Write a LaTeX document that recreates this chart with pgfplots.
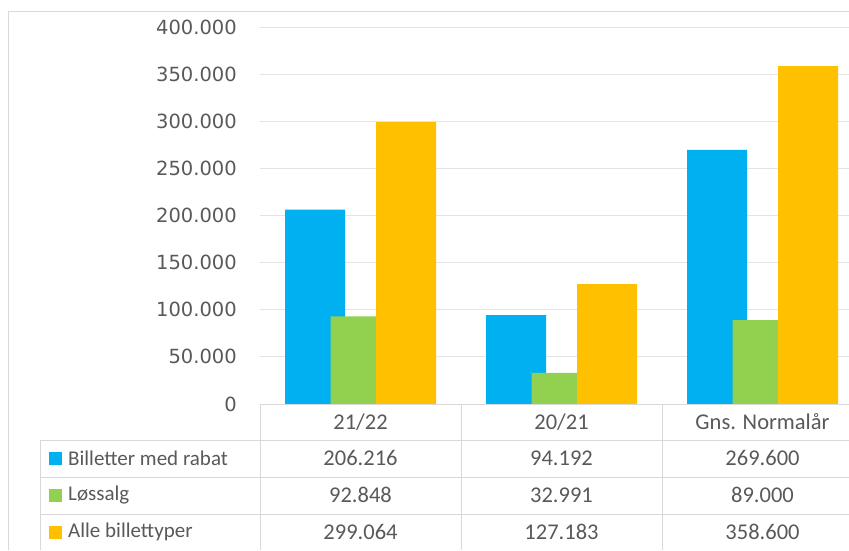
\documentclass[border=0pt]{standalone}
\usepackage{pgfplots}
\pgfplotsset{compat=1.18}
\usepackage{fontspec}
\setmainfont{Carlito}
\newfontfamily\tickfont{DejaVu Sans}
\definecolor{cblue}{HTML}{00B0F0}
\definecolor{cgreen}{HTML}{92D050}
\definecolor{corange}{HTML}{FFC000}
\definecolor{ctext}{HTML}{595959}
\definecolor{cline}{HTML}{D9D9D9}
\begin{document}
\begin{tikzpicture}[x=1pt,y=1pt]
\path[use as bounding box] (0,0) rectangle (849,550);
\begin{axis}[
  at={(260pt,146pt)}, anchor=south west,
  scale only axis, width=589pt, height=377pt,
  xmin=-0.5, xmax=2.4303, ymin=0, ymax=400000,
  axis line style={draw=none},
  xtick={0,1,2}, xticklabels={21/22,20/21,Gns. Normalår},
  xticklabel style={anchor=center, yshift=-18pt, font=\fontsize{22.5}{26}\selectfont, text=ctext},
  ytick={0,50000,100000,150000,200000,250000,300000,350000,400000},
  yticklabels={0,50.000,100.000,150.000,200.000,250.000,300.000,350.000,400.000},
  yticklabel style={anchor=east, inner sep=0pt, xshift=-23pt, font=\tickfont\fontsize{19.5}{22}\selectfont, text=ctext},
  scaled y ticks=false,
  major tick length=0pt,
  ymajorgrids, grid style={cline!70, line width=1pt},
  ybar, bar width=60pt,
  clip=false,
]
\addplot[fill=cblue, draw=none, bar shift=-45.5pt] coordinates {(0,206216) (1,94192) (2,269600)};
\addplot[fill=cgreen, draw=none, bar shift=0pt] coordinates {(0,92848) (1,32991) (2,89000)};
\addplot[fill=corange, draw=none, bar shift=45.5pt] coordinates {(0,299064) (1,127183) (2,358600)};
\end{axis}
% chart border
\draw[cline, line width=1pt] (8,0) -- (8,538) -- (849,538);
% table lines
\begin{scope}[cline, line width=1pt]
\draw (260,146) -- (849,146);
\draw (40,110) -- (849,110);
\draw (40,73) -- (849,73);
\draw (40,36) -- (849,36);
\draw (40,110) -- (40,0);
\draw (260,146) -- (260,0);
\draw (461,146) -- (461,0);
\draw (662,146) -- (662,0);
\end{scope}
% legend keys
\fill[cblue] (49,85.5) rectangle (62,98.5);
\fill[cgreen] (49,48.5) rectangle (62,61.5);
\fill[corange] (49,11.5) rectangle (62,24.5);
\begin{scope}[every node/.style={text=ctext, font=\fontsize{21}{24}\selectfont, inner sep=0pt}]
\node[anchor=west] at (68,92) {Billetter med rabat};
\node[anchor=west] at (68,55) {Løssalg};
\node[anchor=west] at (68,18) {Alle billettyper};
\end{scope}
\begin{scope}[every node/.style={text=ctext, font=\fontsize{22.5}{26}\selectfont, inner sep=0pt}]
\node at (360.5,92) {206.216};
\node at (561.5,92) {94.192};
\node at (762.5,92) {269.600};
\node at (360.5,55) {92.848};
\node at (561.5,55) {32.991};
\node at (762.5,55) {89.000};
\node at (360.5,18) {299.064};
\node at (561.5,18) {127.183};
\node at (762.5,18) {358.600};
\end{scope}
\end{tikzpicture}
\end{document}
